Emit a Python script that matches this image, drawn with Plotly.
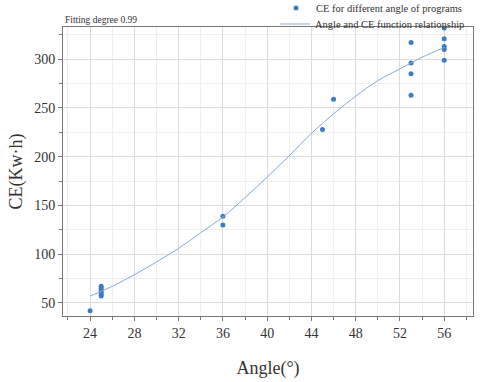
import plotly.graph_objects as go

# Measured points
angle_pts = [24, 25, 25, 25, 25, 25, 25, 36, 36, 45, 46, 53, 53, 53, 53, 56, 56, 56, 56, 56]
ce_pts = [42, 57, 59, 61, 63, 65, 67, 139, 130, 228, 259, 317, 296, 285, 263, 332, 321, 313, 310, 299]

# Fitted curve
fit_angle = [24, 26, 28, 30, 32, 34, 36, 38, 40, 42, 44, 46, 48, 50, 52, 54, 56]
fit_ce = [57, 67, 79, 92, 106, 122, 138, 158, 179, 201, 224, 244, 262, 278, 290, 302, 312]

x_ticks = [24, 28, 32, 36, 40, 44, 48, 52, 56]
y_ticks = [50, 100, 150, 200, 250, 300]

font_family = "Liberation Serif"
W, H = 480, 382

fig = go.Figure()
fig.add_trace(go.Scatter(
    x=angle_pts, y=ce_pts, mode="markers",
    marker=dict(color="#3d7cc0", size=5),
    name="CE for different angle of programs",
    legend="legend", cliponaxis=False,
))
fig.add_trace(go.Scatter(
    x=fit_angle, y=fit_ce, mode="lines", line_shape="spline",
    line=dict(color="#86abd6", width=1),
    name="Angle and CE function relationship",
    legend="legend2",
))

axis_common = dict(
    showline=True, linecolor="#777777", linewidth=1, mirror=True,
    ticks="outside", ticklen=4, tickcolor="#777777",
    showgrid=True, gridcolor="#dcdcdc", gridwidth=1,
    zeroline=False,
    tickfont=dict(family=font_family, size=14, color="#333333"),
)

legend_common = dict(
    xref="container", yref="container", xanchor="right", yanchor="middle",
    bgcolor="rgba(0,0,0,0)", font=dict(family=font_family, size=10.5, color="#333333"),
    itemwidth=30,
)

fig.update_layout(
    width=W, height=H,
    margin=dict(l=63, r=7, t=27, b=66, autoexpand=False),
    paper_bgcolor="white", plot_bgcolor="white",
    font=dict(family=font_family, color="#333333"),
    xaxis=dict(
        range=[21.55, 58.6], tickvals=x_ticks,
        minor=dict(tickvals=[22, 26, 30, 34, 38, 42, 46, 50, 54, 58], ticks="outside", ticklen=3,
                   tickcolor="#777777", showgrid=True, gridcolor="#efefef"),
        title=dict(text="Angle(°)", font=dict(family=font_family, size=18), standoff=21),
        **axis_common,
    ),
    yaxis=dict(
        range=[36.6, 333], tickvals=y_ticks,
        minor=dict(tickvals=[75, 125, 175, 225, 275, 325], ticks="outside", ticklen=3,
                   tickcolor="#777777", showgrid=True, gridcolor="#efefef"),
        title=dict(text="CE(Kw·h)", font=dict(family=font_family, size=18), standoff=6),
        **axis_common,
    ),
    legend=dict(x=467 / W, y=1 - 8 / H, **legend_common),
    legend2=dict(x=470 / W, y=1 - 24 / H, **legend_common),
    showlegend=True,
    annotations=[dict(
        text="Fitting degree 0.99", x=0, xref="paper", xanchor="left",
        y=1.0, yref="paper", yanchor="bottom", showarrow=False,
        font=dict(family=font_family, size=9.5, color="#333333"),
    )],
)

fig.write_html("out.html", config={"displayModeBar": False},
               post_script="document.body.style.margin='0';")
